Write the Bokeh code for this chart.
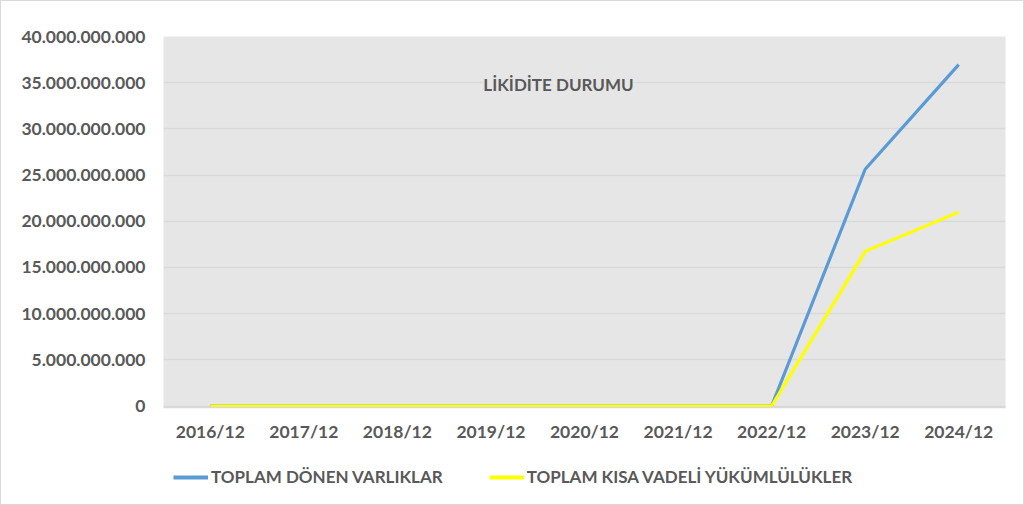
from bokeh.plotting import figure
from bokeh.layouts import column
from bokeh.models import (ColumnDataSource, FactorRange, Range1d, FixedTicker,
                          Legend, LegendItem, Label)
from bokeh.embed import file_html
from bokeh.resources import INLINE

# ---- data ----
periods = ["2016/12", "2017/12", "2018/12", "2019/12", "2020/12",
           "2021/12", "2022/12", "2023/12", "2024/12"]
donen_varliklar = [0, 0, 0, 0, 0, 0, 0, 25.63e9, 36.95e9]
kisa_vadeli_yukumlulukler = [0, 0, 0, 0, 0, 0, 0, 16.74e9, 20.99e9]
series_names = ["TOPLAM DÖNEN VARLIKLAR", "TOPLAM KISA VADELİ YÜKÜMLÜLÜKLER"]
series_colors = ["#5B9BD5", "#FFFF00"]
y_ticks = [0, 5e9, 10e9, 15e9, 20e9, 25e9, 30e9, 35e9, 40e9]
y_tick_labels = ["0", "5.000.000.000", "10.000.000.000", "15.000.000.000",
                 "20.000.000.000", "25.000.000.000", "30.000.000.000",
                 "35.000.000.000", "40.000.000.000"]
chart_title = "LİKİDİTE DURUMU"

FONT = "Lato"
TXT = "#595959"

src = ColumnDataSource(dict(x=periods, a=donen_varliklar, b=kisa_vadeli_yukumlulukler))

# ---- main chart ----
p = figure(width=1022, height=443, x_range=FactorRange(*periods),
           y_range=Range1d(-0.16e9, 40e9), output_backend="svg", toolbar_location=None,
           min_border_left=162, min_border_right=18, min_border_top=35,
           min_border_bottom=35)
p.background_fill_color = "#E6E6E6"
p.border_fill_color = "white"
p.outline_line_color = None

p.xgrid.grid_line_color = None
p.ygrid.grid_line_color = "#D9D9D9"
p.ygrid.grid_line_width = 1.5

p.yaxis.ticker = FixedTicker(ticks=y_ticks)
p.yaxis.major_label_overrides = {t: l for t, l in zip(y_ticks, y_tick_labels)}
for ax in (p.xaxis[0], p.yaxis[0]):
    ax.major_tick_line_color = None
    ax.minor_tick_line_color = None
    ax.major_tick_out = 0
    ax.major_tick_in = 0
    ax.major_label_text_font = FONT
    ax.major_label_text_font_style = "bold"
    ax.major_label_text_font_size = "17.5px"
    ax.major_label_text_color = TXT
p.yaxis.axis_line_color = None
p.yaxis.major_label_standoff = 18
p.xaxis.axis_line_color = "#D9D9D9"
p.xaxis.axis_line_width = 1.5
p.xaxis.major_label_standoff = 13

p.line("x", "a", source=src, line_color=series_colors[0], line_width=3.2)
p.line("x", "b", source=src, line_color=series_colors[1], line_width=3.2)

title = Label(x=395, y=323, x_units="screen", y_units="screen", text=chart_title,
              text_align="center", text_baseline="middle", text_font=FONT,
              text_font_style="bold", text_font_size="17px", text_color=TXT,
              background_fill_color="#E6E6E6")
p.add_layout(title)

# ---- legend strip (series drawn outside its visible range, only the legend shows) ----
q = figure(width=1022, height=60, x_range=FactorRange(*periods),
           y_range=Range1d(-2, -1), output_backend="svg", toolbar_location=None,
           x_axis_location=None, y_axis_location=None, min_border=0,
           min_border_left=0, min_border_right=0, min_border_top=0,
           min_border_bottom=0)
q.grid.visible = False
q.outline_line_color = None
q.background_fill_color = "white"
q.border_fill_color = "white"
l1 = q.line("x", "a", source=src, line_color=series_colors[0], line_width=4)
l2 = q.line("x", "b", source=src, line_color=series_colors[1], line_width=4)

legend = Legend(items=[LegendItem(label=series_names[0], renderers=[l1]),
                       LegendItem(label=series_names[1], renderers=[l2])],
                orientation="horizontal", location=(10, 17),
                background_fill_alpha=0, border_line_color=None,
                padding=0, margin=0, spacing=46, glyph_width=35,
                glyph_height=20, label_standoff=3, label_height=20,
                label_text_font=FONT, label_text_font_style="bold",
                label_text_font_size="17px", label_text_color=TXT)
q.add_layout(legend, "center")

layout = column(p, q, spacing=0, styles={"border": "1px solid #D9D9D9"})
open("out.html", "w").write(file_html(layout, INLINE))
